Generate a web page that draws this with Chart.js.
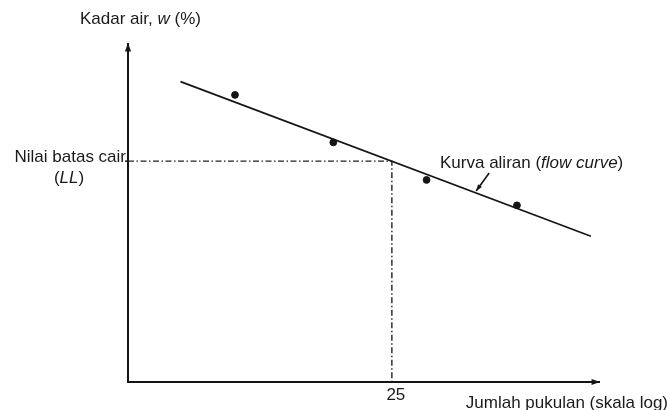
<!DOCTYPE html>
<html lang="id">
<head>
  <meta charset="UTF-8" />
  <title>Kurva aliran - batas cair</title>
  <script src="https://cdn.jsdelivr.net/npm/chart.js"></script>
  <style>
    body { margin: 0; background: #fff; }
    #wrap { width: 670px; height: 410px; }
  </style>
</head>
<body>
  <div id="wrap"><canvas id="chart" width="670" height="410"></canvas></div>
  <script>
    // uji Casagrande: jumlah pukulan vs kadar air
    const blows = [14.5, 20.4, 28.2, 38.6]
    const waterContent = [46.0, 41.7, 38.3, 36.0]
    // garis kurva aliran (ujung-ujungnya)
    const curveBlows = [12.0, 49.9]
    const curveWater = [47.2, 33.2]
    // batas cair
    const llBlows = 25
    const llWater = 40
    const xTickLabels = ['25']
    const xRange = [10, 51.5]
    const yRange = [20, 50.7]

    const ink = '#151515'
    const font = '"Liberation Sans", Arial, sans-serif'
    const fs = 17

    function drawArrow(ctx, x1, y1, x2, y2, size) {
      const a = Math.atan2(y2 - y1, x2 - x1)
      ctx.beginPath()
      ctx.moveTo(x1, y1)
      ctx.lineTo(x2, y2)
      ctx.stroke()
      ctx.beginPath()
      ctx.moveTo(x2, y2)
      ctx.lineTo(x2 - size * Math.cos(a - 0.35), y2 - size * Math.sin(a - 0.35))
      ctx.lineTo(x2 - size * Math.cos(a + 0.35), y2 - size * Math.sin(a + 0.35))
      ctx.closePath()
      ctx.fill()
    }

    // teks dengan bagian miring: [[teks, italic], ...]
    function richText(ctx, parts, x, y, size, align) {
      const fnt = it => (it ? 'italic ' : '') + size + 'px ' + font
      let total = 0
      parts.forEach(p => { ctx.font = fnt(p[1]); total += ctx.measureText(p[0]).width })
      let cx = align === 'right' ? x - total : align === 'center' ? x - total / 2 : x
      ctx.textAlign = 'left'
      parts.forEach(p => {
        ctx.font = fnt(p[1])
        ctx.fillText(p[0], cx, y)
        cx += ctx.measureText(p[0]).width
      })
    }

    const sketch = {
      id: 'sketch',
      afterDatasetsDraw(chart) {
        const { ctx, chartArea: ca, scales: { x, y } } = chart
        ctx.save()
        ctx.strokeStyle = ink
        ctx.fillStyle = ink
        ctx.lineWidth = 2
        // sumbu
        drawArrow(ctx, ca.left, ca.bottom + 1, ca.left, ca.top, 9)
        drawArrow(ctx, ca.left - 1, ca.bottom, ca.right, ca.bottom, 9)

        ctx.lineWidth = 1.5
        const px = x.getPixelForValue(llBlows), py = y.getPixelForValue(llWater)
        ctx.beginPath()
        ctx.moveTo(ca.left - 3, py)
        ctx.lineTo(ca.left, py)
        ctx.stroke()

        // panah penunjuk kurva
        const ax = x.getPixelForValue(33.5), ay = y.getPixelForValue(37.3)
        ctx.lineWidth = 1.6
        drawArrow(ctx, ax + 13, ay - 18, ax, ay, 7)

        ctx.fillStyle = '#1a1a1a'
        ctx.textBaseline = 'middle'
        richText(ctx, [['Kadar air, ', false], ['w', true], [' (%)', false]], 80, 19, fs, 'left')
        richText(ctx, [['Nilai batas cair', false]], ca.left - 2, py - 4, fs, 'right')
        richText(ctx, [['(', false], ['LL', true], [')', false]], 69, py + 17, fs, 'center')
        richText(ctx, [['Kurva aliran (', false], ['flow curve', true], [')', false]], 440, py + 2, fs, 'left')
        richText(ctx, [[xTickLabels[0], false]], px + 4, ca.bottom + 13, fs, 'center')
        richText(ctx, [['Jumlah pukulan (skala log)', false]], 668, ca.bottom + 21, fs, 'right')
        ctx.restore()
      }
    }

    new Chart(document.getElementById('chart'), {
      type: 'scatter',
      data: {
        datasets: [
          {
            label: 'Data uji',
            data: blows.map((b, i) => ({ x: b, y: waterContent[i] })),
            backgroundColor: ink,
            borderColor: ink,
            pointRadius: 3.4,
            order: 1
          },
          {
            label: 'Kurva aliran',
            type: 'line',
            data: curveBlows.map((b, i) => ({ x: b, y: curveWater[i] })),
            borderColor: ink,
            borderWidth: 1.7,
            pointRadius: 0,
            fill: false,
            clip: false,
            order: 2
          },
          {
            label: 'Batas cair',
            type: 'line',
            data: [
              { x: xRange[0], y: llWater },
              { x: llBlows, y: llWater },
              { x: llBlows, y: yRange[0] }
            ],
            borderColor: '#222',
            borderWidth: 1.4,
            borderDash: [6, 2.5, 1.5, 2.5],
            pointRadius: 0,
            fill: false,
            order: 3
          }
        ]
      },
      options: {
        responsive: false,
        animation: false,
        layout: { padding: { left: 128, right: 70, top: 43, bottom: 28 } },
        plugins: { legend: { display: false }, tooltip: { enabled: false } },
        scales: {
          x: { type: 'logarithmic', min: xRange[0], max: xRange[1], display: false },
          y: { type: 'linear', min: yRange[0], max: yRange[1], display: false }
        }
      },
      plugins: [sketch]
    })
  </script>
</body>
</html>
